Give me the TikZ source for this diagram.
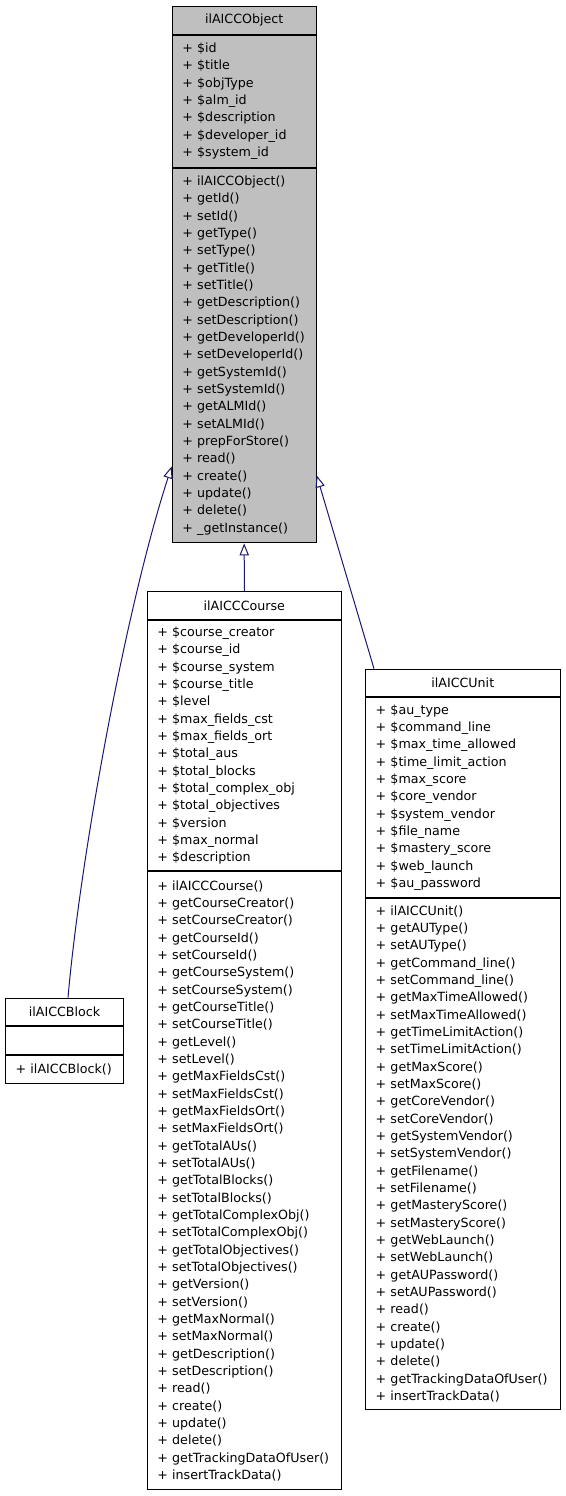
\documentclass[tikz,border=0pt]{standalone}
\usepackage{fontspec}
\setmainfont{DejaVu Sans}
\usetikzlibrary{arrows.meta,calc}
\definecolor{nodegrey}{RGB}{191,191,191}
\definecolor{edgeblue}{RGB}{25,25,112}
\tikzset{every picture/.style={line width=0.75pt}}
\tikzset{
	classtitle/.style={draw=black, anchor=north west, inner sep=0pt, minimum height=20.8pt, font=\fontsize{9.5}{13}\selectfont},
	classpart/.style={draw=black, anchor=north west, inner xsep=7.6pt, inner ysep=0pt, align=left, font=\fontsize{9.5}{13}\selectfont},
	inherit/.style={draw=edgeblue, {Triangle[open,length=9pt,width=7pt]}-}
}

\begin{document}
\begin{tikzpicture}[x=0.75pt,y=0.75pt,yscale=-1,xscale=1]
	\useasboundingbox (0,0) rectangle (565,1496);

	% Class: ilAICCObject
	\node [classtitle, fill=nodegrey, minimum width=108pt] (objtitle) at (171.7,6) {ilAICCObject};
	\node [classpart, fill=nodegrey, text width=92.8pt, minimum height=99pt] (objattr) at (objtitle.south west) {+ \$id\\+ \$title\\+ \$objType\\+ \$alm\_id\\+ \$description\\+ \$developer\_id\\+ \$system\_id};
	\node [classpart, fill=nodegrey, text width=92.8pt, minimum height=281pt] (objmeth) at (objattr.south west) {+ ilAICCObject()\\+ getId()\\+ setId()\\+ getType()\\+ setType()\\+ getTitle()\\+ setTitle()\\+ getDescription()\\+ setDescription()\\+ getDeveloperId()\\+ setDeveloperId()\\+ getSystemId()\\+ setSystemId()\\+ getALMId()\\+ setALMId()\\+ prepForStore()\\+ read()\\+ create()\\+ update()\\+ delete()\\+ \_getInstance()};

	% Class: ilAICCCourse
	\node [classtitle, minimum width=145.7pt] (coursetitle) at (146.7,591) {ilAICCCourse};
	\node [classpart, text width=130.5pt, minimum height=188pt] (courseattr) at (coursetitle.south west) {+ \$course\_creator\\+ \$course\_id\\+ \$course\_system\\+ \$course\_title\\+ \$level\\+ \$max\_fields\_cst\\+ \$max\_fields\_ort\\+ \$total\_aus\\+ \$total\_blocks\\+ \$total\_complex\_obj\\+ \$total\_objectives\\+ \$version\\+ \$max\_normal\\+ \$description};
	\node [classpart, text width=130.5pt, minimum height=463.5pt] (coursemeth) at (courseattr.south west) {+ ilAICCCourse()\\+ getCourseCreator()\\+ setCourseCreator()\\+ getCourseId()\\+ setCourseId()\\+ getCourseSystem()\\+ setCourseSystem()\\+ getCourseTitle()\\+ setCourseTitle()\\+ getLevel()\\+ setLevel()\\+ getMaxFieldsCst()\\+ setMaxFieldsCst()\\+ getMaxFieldsOrt()\\+ setMaxFieldsOrt()\\+ getTotalAUs()\\+ setTotalAUs()\\+ getTotalBlocks()\\+ setTotalBlocks()\\+ getTotalComplexObj()\\+ setTotalComplexObj()\\+ getTotalObjectives()\\+ setTotalObjectives()\\+ getVersion()\\+ setVersion()\\+ getMaxNormal()\\+ setMaxNormal()\\+ getDescription()\\+ setDescription()\\+ read()\\+ create()\\+ update()\\+ delete()\\+ getTrackingDataOfUser()\\+ insertTrackData()};

	% Class: ilAICCUnit
	\node [classtitle, minimum width=145.9pt] (unittitle) at (365,668.7) {ilAICCUnit};
	\node [classpart, text width=130.7pt, minimum height=149.5pt] (unitattr) at (unittitle.south west) {+ \$au\_type\\+ \$command\_line\\+ \$max\_time\_allowed\\+ \$time\_limit\_action\\+ \$max\_score\\+ \$core\_vendor\\+ \$system\_vendor\\+ \$file\_name\\+ \$mastery\_score\\+ \$web\_launch\\+ \$au\_password};
	\node [classpart, text width=130.7pt, minimum height=383.6pt] (unitmeth) at (unitattr.south west) {+ ilAICCUnit()\\+ getAUType()\\+ setAUType()\\+ getCommand\_line()\\+ setCommand\_line()\\+ getMaxTimeAllowed()\\+ setMaxTimeAllowed()\\+ getTimeLimitAction()\\+ setTimeLimitAction()\\+ getMaxScore()\\+ setMaxScore()\\+ getCoreVendor()\\+ setCoreVendor()\\+ getSystemVendor()\\+ setSystemVendor()\\+ getFilename()\\+ setFilename()\\+ getMasteryScore()\\+ setMasteryScore()\\+ getWebLaunch()\\+ setWebLaunch()\\+ getAUPassword()\\+ setAUPassword()\\+ read()\\+ create()\\+ update()\\+ delete()\\+ getTrackingDataOfUser()\\+ insertTrackData()};

	% Class: ilAICCBlock
	\node [classtitle, minimum width=88.5pt] (blocktitle) at (5,997.7) {ilAICCBlock};
	\node [classpart, text width=73.3pt, minimum height=20.7pt] (blockattr) at (blocktitle.south west) {};
	\node [classpart, text width=73.3pt, minimum height=20.8pt] (blockmeth) at (blockattr.south west) {+ ilAICCBlock()};

	% Inheritance
	\draw [inherit] (objmeth.south) -- (coursetitle.north);
	\draw [inherit] ($(objmeth.south east)+(0,-68)$) -- ($(unittitle.north west)+(9,0)$);
	\draw [inherit] ($(objmeth.south west)+(0,-77)$) .. controls (125,610) and (80,860) .. ($(blocktitle.north)+(3.5,0)$);

\end{tikzpicture}
\end{document}
